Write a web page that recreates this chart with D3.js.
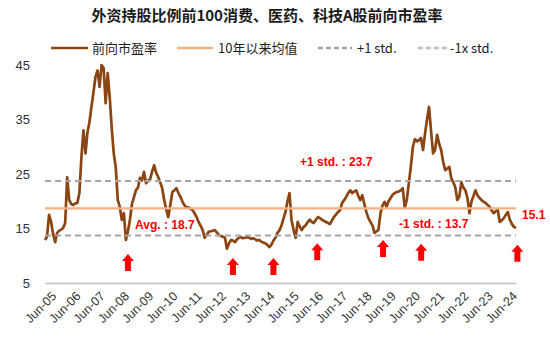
<!DOCTYPE html>
<html>
<head>
<meta charset="utf-8">
<script src="https://cdn.jsdelivr.net/npm/d3@7"></script>
<style>
  body { margin: 0; background: #fff; }
  text { font-family: "Liberation Sans", Arial, sans-serif; }
  .cjk { font-family: "Noto Sans CJK SC", "Liberation Sans", sans-serif; }
</style>
</head>
<body>
<div id="chart-area"></div>
<script>
// monthly forward P/E, starting Jun 2005
const startYear = 2005, startMonth = 5;
const peValues = [
  12.9, 13.5, 17.5, 16.2, 14.0, 12.5, 14.2, 14.6, 14.8, 15.1,
  16.0, 24.4, 20.2, 19.5, 19.3, 19.6, 19.7, 21.5, 28.0, 33.0,
  28.8, 32.5, 34.5, 37.3, 40.0, 42.8, 44.0, 41.0, 45.0, 44.4,
  38.0, 43.5, 39.0, 33.6, 28.8, 26.3, 20.2, 19.0, 16.6, 17.8,
  12.9, 14.5, 16.6, 19.5, 20.8, 22.0, 22.5, 24.3, 23.8, 25.4,
  23.3, 23.8, 24.0, 25.5, 26.6, 25.2, 24.4, 23.5, 22.4, 20.2,
  18.5, 17.1, 19.3, 21.7, 22.0, 22.4, 21.5, 20.8, 19.9, 19.3,
  18.8, 18.9, 18.6, 18.4, 17.8, 17.1, 16.2, 15.5, 14.7, 13.3,
  13.8, 14.4, 14.5, 14.6, 14.7, 14.3, 13.8, 13.6, 13.5, 13.3,
  11.3, 12.3, 12.9, 12.8, 12.5, 13.0, 13.3, 13.4, 13.2, 13.3,
  13.4, 13.3, 13.1, 13.2, 13.0, 12.8, 12.9, 12.6, 12.4, 12.3,
  12.0, 11.6, 12.0, 12.8, 13.3, 14.2, 14.7, 15.5, 16.8, 18.0,
  20.0, 21.5, 16.5, 14.7, 13.3, 16.2, 15.4, 14.7, 15.3, 15.6,
  16.2, 16.6, 16.2, 16.0, 16.6, 17.1, 16.9, 16.6, 16.4, 16.2,
  16.0, 15.8, 16.5, 17.1, 17.6, 18.0, 18.4, 19.7, 20.2, 20.8,
  21.5, 22.0, 21.5, 21.8, 22.0, 21.0, 20.2, 21.1, 19.5, 18.0,
  16.9, 16.2, 15.6, 14.2, 14.5, 14.7, 17.8, 19.2, 19.9, 19.0,
  20.0, 20.6, 21.2, 21.5, 21.7, 21.8, 22.0, 22.4, 18.8, 20.2,
  23.3, 26.3, 30.0, 31.4, 31.0, 31.2, 31.6, 29.4, 32.5, 34.9,
  37.3, 33.0, 28.8, 29.4, 32.2, 30.5, 29.4, 27.2, 25.7, 26.0,
  26.3, 24.3, 23.5, 22.6, 20.2, 20.8, 23.5, 22.5, 22.0, 20.6,
  17.8, 20.0, 21.0, 22.0, 21.1, 20.6, 20.2, 19.9, 19.7, 19.3,
  19.0, 18.3, 17.8, 18.2, 18.4, 16.2, 16.5, 16.9, 17.5, 18.0,
  16.6, 15.8, 15.3, 15.1
];
const avgValue = 18.7, plusStd = 23.7, minusStd = 13.7, lastValue = 15.1;
const yTicks = [5, 15, 25, 35, 45];
const xTickLabels = d3.range(5, 25).map(y => "Jun-" + String(y).padStart(2, "0"));
// arrow markers: month offset from Jun-05, level of arrow tip
const arrowMonths = [41, 93, 113, 134.7, 167.3, 186.1, 233.7];
const arrowTips = [10.3, 9.6, 9.6, 12.3, 12.9, 12.2, 12.0];

const monthDate = m => new Date(startYear, startMonth + Math.floor(m), 1 + Math.round((m % 1) * 30));
const data = peValues.map((v, i) => ({ date: monthDate(i), value: v }));

const svgWidth = 550, svgHeight = 351;
const svg = d3.select("#chart-area").append("svg")
  .attr("width", svgWidth).attr("height", svgHeight);

const x = d3.scaleTime()
  .domain([data[0].date, data[data.length - 1].date])
  .range([45, 516]);
const y = d3.scaleLinear().domain([5, 45]).range([283, 65]);

// title
svg.append("text").attr("class", "cjk")
  .attr("x", 267).attr("y", 21)
  .attr("text-anchor", "middle")
  .attr("font-size", 15).attr("font-weight", "bold").attr("fill", "#1a1a1a")
  .text("外资持股比例前100消费、医药、科技A股前向市盈率");

// legend
const legend = [
  { label: "前向市盈率", color: "#8B4513", dash: null, x0: 51, x1: 88, tx: 92 },
  { label: "10年以来均值", color: "#F4B183", dash: null, x0: 177, x1: 213, tx: 218 },
  { label: "+1 std.", color: "#A6A6A6", dash: "5,3", x0: 318, x1: 352, tx: 357 },
  { label: "-1x std.", color: "#BFBFBF", dash: "5,3", x0: 418, x1: 448, tx: 450 }
];
const lg = svg.append("g");
legend.forEach(d => {
  lg.append("line").attr("x1", d.x0).attr("x2", d.x1).attr("y1", 48).attr("y2", 48)
    .attr("stroke", d.color).attr("stroke-width", 2.5)
    .attr("stroke-dasharray", d.dash);
  lg.append("text").attr("class", "cjk").attr("x", d.tx).attr("y", 52.5)
    .attr("font-size", 13).attr("fill", "#222").text(d.label);
});

// y axis labels (no line)
const yAxis = svg.append("g").attr("transform", "translate(45,0)")
  .call(d3.axisLeft(y).tickValues(yTicks).tickSize(0).tickPadding(15));
yAxis.select(".domain").remove();
yAxis.selectAll("text").attr("font-size", 13).attr("fill", "#333")
  .attr("font-family", "Liberation Sans, Arial, sans-serif");

// x axis
const tickDates = xTickLabels.map((d, i) => new Date(2005 + i, 5, 1));
const xAxis = svg.append("g").attr("transform", "translate(0,283)")
  .call(d3.axisBottom(x).tickValues(tickDates).tickSize(0)
    .tickFormat((d, i) => xTickLabels[i]));
xAxis.select(".domain").attr("stroke", "#BFBFBF").attr("stroke-width", 1.5);
xAxis.selectAll("text")
  .attr("font-size", 12.5).attr("fill", "#333")
  .attr("font-family", "Liberation Sans, Arial, sans-serif")
  .attr("text-anchor", "end")
  .attr("dx", "-1.5").attr("dy", "15")
  .attr("transform", "rotate(-45)");

// P/E line
const line = d3.line().x(d => x(d.date)).y(d => y(d.value));
svg.append("path").datum(data)
  .attr("fill", "none").attr("stroke", "#8B4513")
  .attr("stroke-width", 2.7).attr("stroke-linejoin", "round")
  .attr("d", line);

// reference lines
const x0 = x.range()[0], x1 = x.range()[1];
svg.append("line").attr("x1", x0).attr("x2", x1)
  .attr("y1", y(avgValue)).attr("y2", y(avgValue))
  .attr("stroke", "#F4B183").attr("stroke-width", 2.2);
[plusStd, minusStd].forEach(v => {
  svg.append("line").attr("x1", x0).attr("x2", x1)
    .attr("y1", y(v)).attr("y2", y(v))
    .attr("stroke", "#A6A6A6").attr("stroke-width", 2)
    .attr("stroke-dasharray", "6,4");
});

// annotations
const ann = [
  { t: "Avg. : " + avgValue, x: 135, y: y(avgValue) + 21 },
  { t: "+1 std. : " + plusStd, x: 300, y: y(plusStd) - 15 },
  { t: "-1 std. : " + minusStd, x: 399, y: y(avgValue) + 20 },
  { t: String(lastValue), x: 522, y: y(avgValue) + 11 }
];
ann.forEach(d => {
  svg.append("text").attr("x", d.x).attr("y", d.y)
    .attr("font-size", 12).attr("font-weight", "bold").attr("fill", "#FF0000")
    .text(d.t);
});

// arrows
const arrowPath = "M0,0 L6,7 L3,7 L3,17 L-3,17 L-3,7 L-6,7 Z";
arrowMonths.forEach((m, i) => {
  svg.append("path")
    .attr("transform", `translate(${x(monthDate(m))},${y(arrowTips[i])})`)
    .attr("d", arrowPath).attr("fill", "#FF0000");
});
</script>
</body>
</html>
